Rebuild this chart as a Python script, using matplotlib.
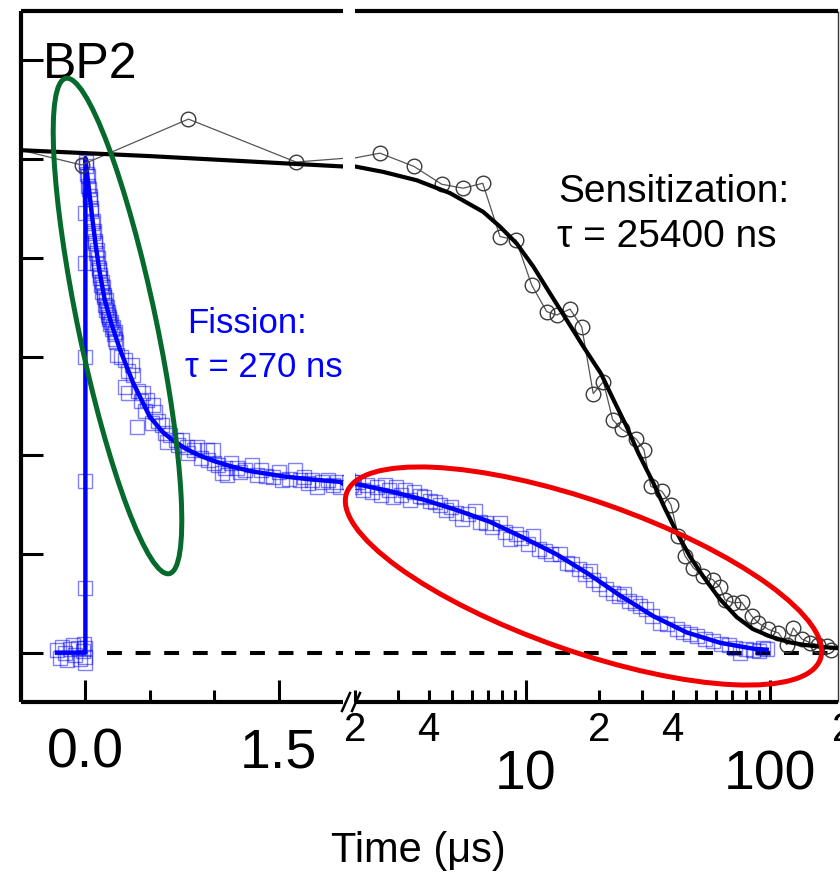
import matplotlib
matplotlib.use("Agg")
import matplotlib.pyplot as plt
import numpy as np
from matplotlib import font_manager, transforms
from matplotlib.patches import Ellipse
from matplotlib.lines import Line2D

names = {f.name for f in font_manager.fontManager.ttflist}
SANS = "Liberation Sans" if "Liberation Sans" in names else "DejaVu Sans"
plt.rcParams["font.family"] = [SANS, "DejaVu Sans"]

# ---------------- data (time in microseconds, normalised signal) -------------
# Sensitization (black circles)
sens_t = [-1.0, -0.03, 0.80, 1.635, 2.53, 3.49, 4.53, 5.55, 6.67, 7.85, 9.13,
          10.58, 12.19, 13.4, 15.19, 16.96, 18.9, 20.8, 22.7, 24.7, 28.3, 30.5,
          32.5, 36.1, 39.3, 42.2, 44.9, 48.6, 53.1, 58.3, 62.5, 65.5, 70.8,
          76.7, 84.3, 89.7, 98.6, 108.3, 117.2, 124.7, 134.9, 146, 157.9, 171,
          177.6]
sens_y = [1.05, 0.988, 1.081, 0.994, 1.012, 0.985, 0.949, 0.941, 0.951, 0.843,
          0.836, 0.745, 0.691, 0.684, 0.696, 0.660, 0.525, 0.549, 0.472, 0.453,
          0.433, 0.411, 0.337, 0.327, 0.300, 0.236, 0.196, 0.172, 0.155, 0.148,
          0.133, 0.107, 0.101, 0.102, 0.074, 0.060, 0.047, 0.040, 0.016, 0.050,
          0.028, 0.020, 0.016, 0.013, 0.006]

# Sensitization fit (tau = 25400 ns)
sens_fit_t = [-0.5, 0.0, 0.5, 1.0, 1.5, 2.0, 2.61, 3.58, 4.90, 6.70, 7.85,
              9.18, 10.75, 12.57, 14.72, 17.22, 20.3, 23, 25.9, 29, 33.3, 37,
              41.5, 47, 53.4, 62, 73.1, 85, 100, 120, 137, 160, 200]
sens_fit_y = [1.018, 1.012, 1.006, 0.999, 0.992, 0.985, 0.974, 0.957, 0.931,
              0.893, 0.863, 0.829, 0.782, 0.728, 0.674, 0.620, 0.566, 0.510,
              0.458, 0.403, 0.344, 0.294, 0.244, 0.195, 0.154, 0.110, 0.072,
              0.048, 0.033, 0.021, 0.016, 0.012, 0.008]

# Fission (blue squares)
fis_t = [-0.22, -0.2, -0.18, -0.16, -0.14, -0.12, -0.1, -0.08, -0.06, -0.04,
         -0.02, -0.01, 0.0, 0.0, -0.005,
         0.0, 0.0, 0.0, 0.0, 0.0,
         0.003, 0.008, 0.012, 0.017, 0.022, 0.027, 0.032, 0.037, 0.042, 0.047,
         0.052, 0.057, 0.062, 0.067, 0.072, 0.077, 0.082, 0.087, 0.092, 0.097,
         0.102, 0.107, 0.112, 0.117, 0.122, 0.127, 0.132, 0.137, 0.142, 0.147,
         0.152, 0.157, 0.162, 0.167, 0.172, 0.177, 0.182, 0.187, 0.192, 0.197,
         0.205, 0.212, 0.219, 0.226, 0.233, 0.24,
         0.245, 0.28, 0.307, 0.33, 0.362, 0.370, 0.307, 0.331, 0.41, 0.43,
         0.447, 0.46, 0.478, 0.525, 0.540, 0.401, 0.517, 0.56, 0.595, 0.62,
         0.634, 0.66, 0.70, 0.72, 0.750, 0.789, 0.80, 0.84, 0.866, 0.90,
         0.944, 0.95, 0.991, 1.0, 1.03, 1.06, 1.08, 1.10, 1.13, 1.18, 1.2,
         1.24, 1.29, 1.33, 1.36, 1.4, 1.46, 1.5, 1.53, 1.58, 1.63, 1.67, 1.7,
         1.73, 1.76, 1.80, 1.84, 1.88, 1.92, 1.95, 1.98,
         2.05, 2.15, 2.25, 2.35, 2.45, 2.55, 2.65, 2.75, 2.85, 2.95, 3.1, 3.2,
         3.35, 3.5, 3.69, 3.85, 4.06, 4.25, 4.46, 4.7, 4.95, 5.2, 5.5, 5.8,
         6.2, 6.5, 6.9, 7.3, 7.85, 8.2, 8.6, 9.1, 9.6, 10.2, 10.7, 11.3, 12.0,
         12.7, 13.8, 14.7, 15.5, 16.5, 17.5, 18.4, 18.9, 20, 21.4, 22.8, 24,
         25.2, 26.5, 28, 29.4, 31, 33, 35.6, 38, 41.5, 44, 47, 50.2, 54, 58.7,
         63, 68, 72, 75.6, 80, 85, 90, 94, 97]
fis_y = [0.005, -0.01, 0.012, 0.0, -0.015, 0.008, 0.015, -0.005, 0.01, -0.012,
         0.004, 0.018, -0.02, 0.01, -0.008,
         0.13, 0.347, 0.60, 0.79, 0.89,
         0.995, 0.985, 0.97, 0.965, 0.945, 0.94, 0.92, 0.925, 0.90, 0.895,
         0.87, 0.875, 0.85, 0.855, 0.83, 0.835, 0.81, 0.815, 0.79, 0.80,
         0.775, 0.78, 0.76, 0.765, 0.745, 0.75, 0.73, 0.74, 0.72, 0.725,
         0.705, 0.715, 0.695, 0.70, 0.685, 0.69, 0.675, 0.68, 0.665, 0.67,
         0.655, 0.66, 0.645, 0.65, 0.635, 0.63,
         0.603, 0.60, 0.593, 0.57, 0.583, 0.563, 0.538, 0.526, 0.53, 0.51,
         0.526, 0.49, 0.512, 0.502, 0.488, 0.457, 0.466, 0.47, 0.462, 0.445,
         0.427, 0.44, 0.43, 0.42, 0.431, 0.417, 0.405, 0.41, 0.417, 0.395,
         0.411, 0.39, 0.411, 0.385, 0.38, 0.364, 0.375, 0.36, 0.385, 0.374,
         0.365, 0.37, 0.381, 0.36, 0.37, 0.358, 0.356, 0.365, 0.35, 0.352,
         0.370, 0.35, 0.355, 0.344, 0.35, 0.336, 0.345, 0.35, 0.34, 0.345,
         0.336,
         0.345, 0.33, 0.34, 0.325, 0.335, 0.32, 0.34, 0.33, 0.315, 0.335, 0.32,
         0.33, 0.31, 0.325, 0.317, 0.315, 0.307, 0.305, 0.30, 0.29, 0.295,
         0.283, 0.27, 0.28, 0.287, 0.265, 0.262, 0.255, 0.262, 0.245, 0.23,
         0.24, 0.232, 0.22, 0.236, 0.21, 0.205, 0.20, 0.2, 0.182, 0.18, 0.17,
         0.16, 0.165, 0.148, 0.14, 0.128, 0.12, 0.115, 0.118, 0.105, 0.10,
         0.094, 0.088, 0.075, 0.061, 0.058, 0.047, 0.042, 0.038, 0.033, 0.028,
         0.024, 0.018, 0.015, 0.01, 0.0, 0.008, 0.005, 0.003, 0.01, 0.008]

# Fission fit (tau = 270 ns + slow component)
fis_fit_t = [-0.22, 0.0, 0.0, 0.02, 0.036, 0.05, 0.08, 0.11, 0.15, 0.2, 0.27,
             0.37, 0.5, 0.6, 0.68, 0.78, 0.89, 1.0, 1.15, 1.3, 1.54, 1.75,
             1.98, 2.0, 2.1, 2.78, 3.81, 5.22, 7.14, 9.78, 13.4, 18.0, 24.3,
             33.3, 45.6, 62.5, 85.5, 97]
fis_fit_y = [0.0, 0.0, 1.002, 0.955, 0.920, 0.888, 0.825, 0.772, 0.715, 0.668,
             0.613, 0.547, 0.478, 0.447, 0.430, 0.413, 0.399, 0.388, 0.376,
             0.367, 0.357, 0.351, 0.346, 0.342, 0.340, 0.327, 0.310, 0.289,
             0.265, 0.233, 0.199, 0.160, 0.116, 0.074, 0.041, 0.020, 0.008,
             0.006]

y_ticks = [0.0, 0.2, 0.4, 0.6, 0.8, 1.0, 1.2]
left_major = [0.0, 1.5]
left_minor = [0.5, 1.0]
left_labels = ["0.0", "1.5"]
right_big = [(10, "10"), (100, "100")]
right_small = [(2, "2"), (4, "4"), (20, "2"), (40, "4"), (200, "2")]
baseline_start = 0.17

# ---------------- figure ----------------
W, H = 840, 874
fig = plt.figure(figsize=(W / 100, H / 100), dpi=100)
axL = fig.add_axes([21 / W, 1 - 702 / H, (343 - 21) / W, 691 / H])
axR = fig.add_axes([355 / W, 1 - 702 / H, (838 - 355) / W, 691 / H])

BLUE = "#0000ff"
SQ_EDGE = (0, 0, 1, 0.5)

def draw(ax, positive_only):
    def sel(t, y):
        t = np.asarray(t, float); y = np.asarray(y, float)
        if positive_only:
            m = t > 0
            return t[m], y[m]
        return t, y
    x0 = 2.0 if positive_only else baseline_start
    x1 = 190 if positive_only else 2.0
    ax.hlines(0, x0, x1, colors="k", lw=2.9, linestyles=(0, (3.7, 3.4)), zorder=1)
    t, y = sel(fis_t, fis_y)
    ax.plot(t, y, ls="none", marker="s", ms=10, mfc="none", mec=SQ_EDGE,
            mew=1.0, zorder=2)
    t, y = sel(fis_fit_t, fis_fit_y)
    ax.plot(t, y, color=BLUE, lw=3.2, zorder=3, solid_joinstyle="round")
    t, y = sel(sens_t, sens_y)
    ax.plot(t, y, color="#555555", lw=0.9, marker="o", ms=10.5, mfc="none",
            mec="#3a3a3a", mew=1.0, zorder=4)
    t, y = sel(sens_fit_t, sens_fit_y)
    ax.plot(t, y, color="k", lw=3.0, zorder=5, solid_joinstyle="round")
    ax.set_ylim(-0.1, 1.3)

draw(axL, False)
draw(axR, True)

axL.set_xlim(-0.5, 2.0)
axR.set_xscale("log")
axR.set_xlim(2, 190)

for ax in (axL, axR):
    for s in ax.spines.values():
        s.set_linewidth(3)
        s.set_capstyle("butt")
axL.spines["right"].set_visible(False)
axR.spines["left"].set_visible(False)
axR.spines["right"].set_linewidth(1.0)
axR.spines["right"].set_color("#333333")

axL.set_yticks(y_ticks)
axL.set_xticks(left_major)
axL.set_xticks(left_minor, minor=True)
axL.tick_params(which="major", direction="in", length=15.8, width=2.2,
                labelbottom=False, labelleft=False, top=False, right=False)
axL.tick_params(which="minor", direction="in", length=8.6, width=2.2)
axL.tick_params(axis="y", which="minor", left=False)
axR.set_yticks([])
axR.tick_params(which="both", direction="in", width=2.2, labelbottom=False,
                top=False)
axR.tick_params(which="major", length=15.8)
axR.tick_params(which="minor", length=8.6)

# tick labels
trL = transforms.blended_transform_factory(axL.transData, fig.transFigure)
trR = transforms.blended_transform_factory(axR.transData, fig.transFigure)
for x, lab in zip(left_major, left_labels):
    fig.text(x, 1 - 767 / H, lab, transform=trL, ha="center", va="baseline",
             fontsize=40)
for x, lab in right_big:
    fig.text(x, 1 - 790 / H, lab, transform=trR, ha="center", va="baseline",
             fontsize=40)
for x, lab in right_small:
    fig.text(x, 1 - 741 / H, lab, transform=trR, ha="center", va="baseline",
             fontsize=29)

fig.text(418 / W, 1 - 862 / H, "Time (μs)", ha="center", va="baseline",
         fontsize=30)

# annotations
fig.text(43 / W, 1 - 78 / H, "BP2", ha="left", va="baseline", fontsize=36)
fig.text(558 / W, 1 - 202 / H, "Sensitization:", ha="left", va="baseline",
         fontsize=28)
fig.text(557 / W, 1 - 247 / H, "τ = 25400 ns", ha="left", va="baseline",
         fontsize=28)
fig.text(187 / W, 1 - 333 / H, "Fission:", ha="left", va="baseline",
         fontsize=25, color=BLUE)
fig.text(185 / W, 1 - 377 / H, "τ = 270 ns", ha="left", va="baseline",
         fontsize=25, color=BLUE)

# axis break marks on the bottom spine
ident = transforms.IdentityTransform()
for xb in (346, 356):
    fig.add_artist(Line2D([xb - 4, xb + 4], [H - 711, H - 693], transform=ident,
                          color="k", lw=1.8))

# hand-drawn highlight ellipses
fig.add_artist(Ellipse((117.5, H - 326), 78, 506, angle=11.8, transform=ident,
                       fill=False, ec="#066a2c", lw=3.6, zorder=20))
fig.add_artist(Ellipse((583.5, H - 576), 502, 150, angle=-19.3, transform=ident,
                       fill=False, ec="#f00000", lw=3.6, zorder=20))

fig.savefig("out.png", dpi=100)
